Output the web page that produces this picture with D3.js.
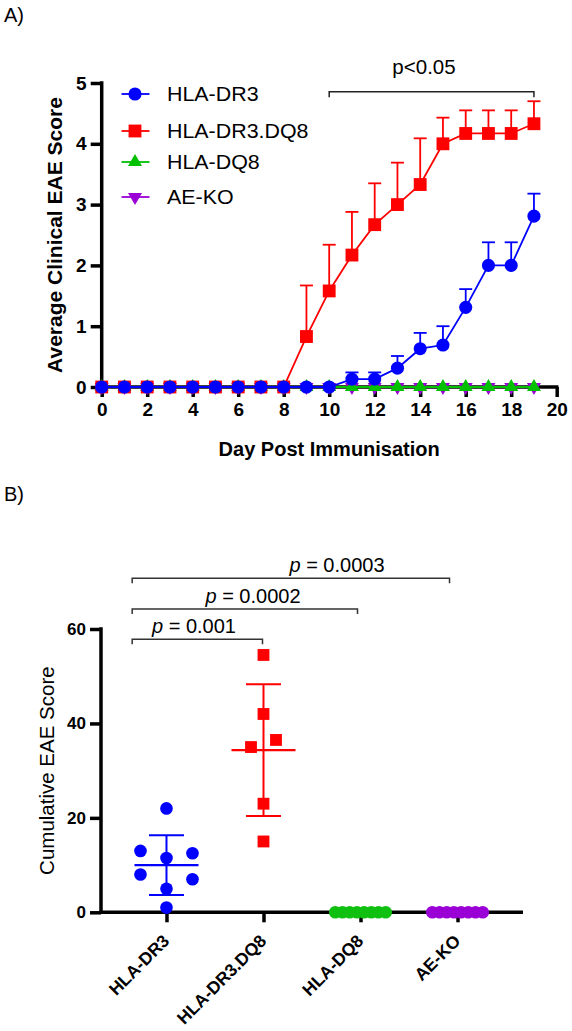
<!DOCTYPE html>
<html><head><meta charset="utf-8">
<script src="https://cdn.jsdelivr.net/npm/d3@7"></script>
<style>
body{margin:0;background:#fff}
svg{display:block}
text{font-family:"Liberation Sans",Arial,Helvetica,sans-serif;fill:#000}
</style>
</head><body>
<svg id="c" width="572" height="1031"></svg>
<script>
// ---------- Panel A data ----------
const days = [0,1,2,3,4,5,6,7,8,9,10,11,12,13,14,15,16,17,18,19];
const dr3Mean    = [0,0,0,0,0,0,0,0,0,0,0,0.13,0.13,0.31,0.63,0.69,1.31,2.0,2.0,2.81];
const dr3Sem     = [0,0,0,0,0,0,0,0,0,0,0,0.11,0.11,0.2,0.26,0.31,0.3,0.38,0.38,0.37];
const dr3dq8Mean = [0,0,0,0,0,0,0,0,0,0.83,1.58,2.17,2.67,3.0,3.33,4.0,4.17,4.17,4.17,4.33];
const dr3dq8Sem  = [0,0,0,0,0,0,0,0,0,0.84,0.76,0.71,0.68,0.69,0.76,0.43,0.38,0.38,0.38,0.37];
const dq8Mean    = [0,0,0,0,0,0,0,0,0,0,0,0,0,0,0,0,0,0,0,0];
const aekoMean   = [0,0,0,0,0,0,0,0,0,0,0,0,0,0,0,0,0,0,0,0];
const seriesNames = ["HLA-DR3","HLA-DR3.DQ8","HLA-DQ8","AE-KO"];
const xTicksA = [0,2,4,6,8,10,12,14,16,18,20];
const yTicksA = [0,1,2,3,4,5];
const sigA = {from: 10, to: 19, label: "p<0.05"};

// ---------- Panel B data ----------
const groupsB = ["HLA-DR3","HLA-DR3.DQ8","HLA-DQ8","AE-KO"];
const cumDR3    = [22,13,12.5,11.5,8,7,5,1];
const cumDR3DQ8 = [54.5,42,36.5,35,23,15];
const cumDQ8    = [0,0,0,0,0,0,0,0];
const cumAEKO   = [0,0,0,0,0,0,0,0];
const yTicksB = [0,20,40,60];
const pLabels = ["0.001","0.0002","0.0003"];

// ---------- styles ----------
const colors = ["#0000ff","#ff0000","#00c000","#9a00d6"];
const svg = d3.select("#c");
const FONT = '"Liberation Sans",Arial,Helvetica,sans-serif';
const AXW = 3.5;

function styleAxis(a, fs) {
  a.select(".domain").remove();
  a.selectAll(".tick line").attr("stroke","#000").attr("stroke-width",AXW);
  a.selectAll(".tick text").attr("font-family",FONT).attr("font-size",fs).attr("font-weight","bold").attr("fill","#000");
}

// ================= Panel A =================
const xA = d3.scaleLinear().domain([0,20]).range([101.7,556.7]);
const yA = d3.scaleLinear().domain([0,5]).range([387,83]);

svg.append("text").attr("x",4).attr("y",22).attr("font-size",20).text("A)");

const gA = svg.append("g");
const axXA = gA.append("g").attr("transform",`translate(0,${yA(0)})`)
  .call(d3.axisBottom(xA).tickValues(xTicksA).tickSize(10).tickPadding(6).tickFormat(d3.format("d")));
const axYA = gA.append("g").attr("transform",`translate(${xA(0)},0)`)
  .call(d3.axisLeft(yA).tickValues(yTicksA).tickSize(11).tickPadding(4).tickFormat(d3.format("d")));
styleAxis(axXA,19); styleAxis(axYA,19);
gA.append("line").attr("x1",xA(0)-AXW/2).attr("x2",xA(20)+AXW/2).attr("y1",yA(0)).attr("y2",yA(0)).attr("stroke","#000").attr("stroke-width",AXW);
gA.append("line").attr("x1",xA(0)).attr("x2",xA(0)).attr("y1",yA(0)+AXW/2).attr("y2",yA(5)-AXW/2).attr("stroke","#000").attr("stroke-width",AXW);

gA.append("text").attr("x",(xA(0)+xA(20))/2).attr("y",456).attr("text-anchor","middle")
  .attr("font-size",20).attr("font-weight","bold").text("Day Post Immunisation");
gA.append("text").attr("transform",`translate(62,${(yA(0)+yA(5))/2}) rotate(-90)`).attr("text-anchor","middle")
  .attr("font-size",21).attr("font-weight","bold").text("Average Clinical EAE Score");

const symbols = [
  d3.symbol().type(d3.symbolCircle).size(135)(),
  d3.symbol().type(d3.symbolSquare).size(165)(),
  d3.symbol().type(d3.symbolTriangle).size(85)(),
  d3.symbol().type(d3.symbolTriangle).size(85)()
];
const rot = [0,0,0,180];

const seriesA = [
  {mean: dr3Mean, sem: dr3Sem},
  {mean: dr3dq8Mean, sem: dr3dq8Sem},
  {mean: dq8Mean, sem: null},
  {mean: aekoMean, sem: null}
];
const drawOrder = [3,2,1,0];
const line = d3.line().x(d=>xA(d[0])).y(d=>yA(d[1]));
drawOrder.forEach(i=>{
  const s = seriesA[i];
  const g = gA.append("g");
  const pts = days.map((d,k)=>[d, s.mean[k], s.sem ? s.sem[k] : 0]);
  pts.filter(p=>p[2]>0).forEach(p=>{
    const x = xA(p[0]), y1 = yA(p[1]), y2 = yA(p[1]+p[2]);
    g.append("line").attr("x1",x).attr("x2",x).attr("y1",y1).attr("y2",y2).attr("stroke",colors[i]).attr("stroke-width",1.8);
    g.append("line").attr("x1",x-6.5).attr("x2",x+6.5).attr("y1",y2).attr("y2",y2).attr("stroke",colors[i]).attr("stroke-width",1.8);
  });
  g.append("path").attr("d",line(pts)).attr("fill","none").attr("stroke",colors[i]).attr("stroke-width",1.8);
  g.selectAll("path.m").data(pts).join("path").attr("class","m")
    .attr("d",symbols[i]).attr("fill",colors[i])
    .attr("transform",p=>`translate(${xA(p[0])},${yA(p[1])}) rotate(${rot[i]})`);
});

// significance bracket A
const by = 91.7;
gA.append("path").attr("d",`M${xA(sigA.from)},${by+5.5}V${by}H${xA(sigA.to)}V${by+5.5}`)
  .attr("fill","none").attr("stroke","#222").attr("stroke-width",1.5);
gA.append("text").attr("x",424).attr("y",73.5).attr("text-anchor","middle").attr("font-size",20.5).text(sigA.label);

// legend
const legY = [94,131,162,197];
seriesNames.forEach((n,i)=>{
  const g = gA.append("g").attr("transform",`translate(135,${legY[i]})`);
  g.append("line").attr("x1",-13.5).attr("x2",14.5).attr("stroke",colors[i]).attr("stroke-width",1.8);
  g.append("path").attr("d",symbols[i]).attr("fill",colors[i]).attr("transform",`rotate(${rot[i]})`);
  g.append("text").attr("transform","translate(32,7) scale(1.07,1)").attr("font-size",20).text(n);
});

// ================= Panel B =================
svg.append("text").attr("x",4).attr("y",501).attr("font-size",20).text("B)");
const xB = d3.scalePoint().domain(groupsB).range([101,523]).padding(0.675);
const yB = d3.scaleLinear().domain([0,60]).range([912.3,629]);
const gB = svg.append("g");

const axXB = gB.append("g").attr("transform",`translate(0,${yB(0)})`)
  .call(d3.axisBottom(xB).tickSize(10).tickFormat(""));
const axYB = gB.append("g").attr("transform",`translate(101,0)`)
  .call(d3.axisLeft(yB).tickValues(yTicksB).tickSize(11).tickPadding(4).tickFormat(d3.format("d")));
styleAxis(axXB,17); styleAxis(axYB,17);
gB.append("line").attr("x1",101-AXW/2).attr("x2",523).attr("y1",yB(0)).attr("y2",yB(0)).attr("stroke","#000").attr("stroke-width",AXW);
gB.append("line").attr("x1",101).attr("x2",101).attr("y1",yB(0)+AXW/2).attr("y2",yB(60)-AXW/2).attr("stroke","#000").attr("stroke-width",AXW);

groupsB.forEach(g=>{
  gB.append("text").attr("transform",`translate(${xB(g)+4},${942}) rotate(-45)`).attr("text-anchor","end")
    .attr("font-size",17.5).attr("font-weight","bold").text(g);
});

gB.append("text").attr("transform",`translate(54,${(yB(0)+yB(60))/2}) rotate(-90)`).attr("text-anchor","middle")
  .attr("font-size",20.5).text("Cumulative EAE Score");

const dataB = [cumDR3, cumDR3DQ8, cumDQ8, cumAEKO];
const jitterCols = [[0,-1,1,0,-1,1,0,0],[0,0,1,-1,0,0],[-3.5,-2.5,-1.5,-0.5,0.5,1.5,2.5,3.5],[-3.5,-2.5,-1.5,-0.5,0.5,1.5,2.5,3.5]];
const colStep = [26,12.5,7.2,7.2];
const symB = [
  d3.symbol().type(d3.symbolCircle).size(125)(),
  d3.symbol().type(d3.symbolSquare).size(140)(),
  d3.symbol().type(d3.symbolCircle).size(125)(),
  d3.symbol().type(d3.symbolCircle).size(125)()
];
const colorsB = ["#0000ff","#ff0000","#10c010","#9a00d6"];
dataB.forEach((vals,i)=>{
  const cx = xB(groupsB[i]);
  const g = gB.append("g");
  g.selectAll("path").data(vals).join("path").attr("d",symB[i]).attr("fill",colorsB[i])
    .attr("transform",(v,k)=>`translate(${cx+jitterCols[i][k]*colStep[i]},${yB(v)})`);
  const m = d3.mean(vals), sd = d3.deviation(vals);
  if (sd > 0) {
    g.append("line").attr("x1",cx-32).attr("x2",cx+32).attr("y1",yB(m)).attr("y2",yB(m)).attr("stroke",colorsB[i]).attr("stroke-width",2.2);
    g.append("line").attr("x1",cx).attr("x2",cx).attr("y1",yB(m-sd)).attr("y2",yB(m+sd)).attr("stroke",colorsB[i]).attr("stroke-width",2);
    [m-sd,m+sd].forEach(v=>g.append("line").attr("x1",cx-17.5).attr("x2",cx+17.5).attr("y1",yB(v)).attr("y2",yB(v)).attr("stroke",colorsB[i]).attr("stroke-width",2));
  }
});

const brackets = [
  {to: "HLA-DR3.DQ8", y: 639.3, right: -1, tx: 194, ty: 633},
  {to: "HLA-DQ8", y: 609, right: -3, tx: 253, ty: 603.3},
  {to: "AE-KO", y: 578.3, right: -8, tx: 337, ty: 572}
];
brackets.forEach((b,i)=>{
  const x1 = xB("HLA-DR3") - 34.3, x2 = xB(b.to) + b.right;
  gB.append("path").attr("d",`M${x1},${b.y+5}V${b.y}H${x2}V${b.y+5}`).attr("fill","none").attr("stroke","#333").attr("stroke-width",1.5);
  const t = gB.append("text").attr("x",b.tx).attr("y",b.ty).attr("text-anchor","middle").attr("font-size",20);
  t.append("tspan").attr("font-style","italic").text("p");
  t.append("tspan").text(" = " + pLabels[i]);
});
</script>
</body></html>
